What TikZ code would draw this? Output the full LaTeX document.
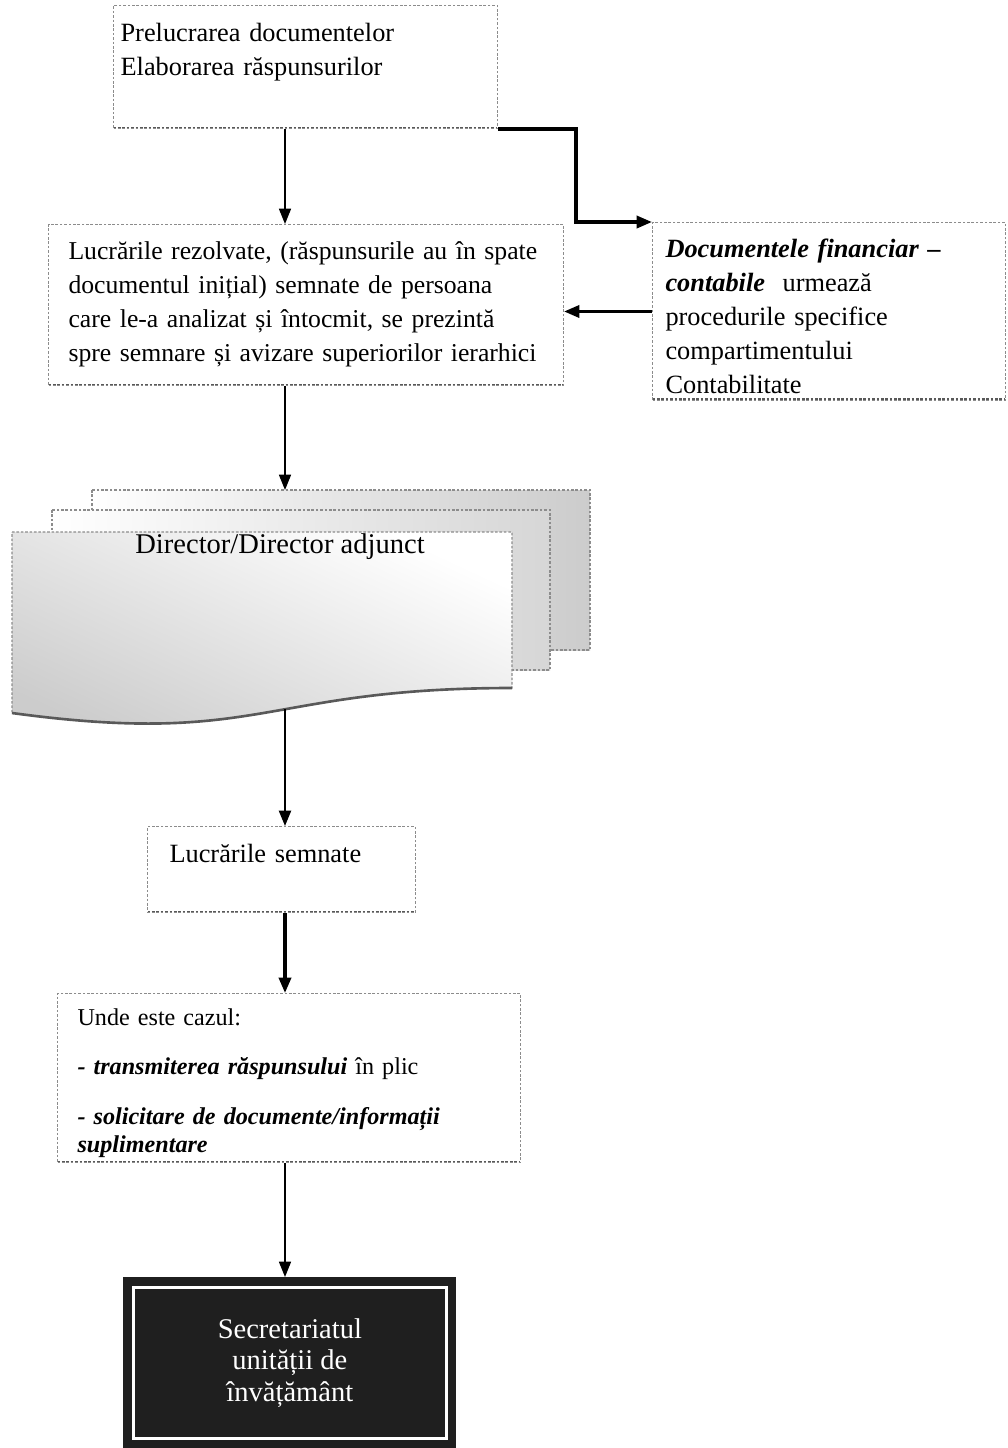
\documentclass[tikz,border=0pt]{standalone}
\usepackage{fontspec}
\setmainfont{Liberation Serif}
\usetikzlibrary{arrows.meta,positioning}

\begin{document}
\begin{tikzpicture}[
    x=0.016cm, y=-0.016cm,
    box/.style={rectangle, draw=black!45, dash pattern=on 1.2pt off 0.8pt, line width=0.5pt, anchor=north west, align=left, inner ysep=0pt, font=\fontsize{12}{15.5}\selectfont,
        path picture={\draw[black!65, line width=1.8pt] (path picture bounding box.south west) -- (path picture bounding box.south east);}},
    sheet/.style={draw=black!45, dash pattern=on 1.2pt off 0.8pt, line width=0.5pt},
    arrow/.style={-{Triangle[length=7pt,width=5.5pt]}, line width=0.6pt},
    midarrow/.style={arrow, line width=0.9pt},
    thickarrow/.style={arrow, line width=1.5pt}
]
\useasboundingbox (0,0) rectangle (1008,1448);

\node[box, text width=168.4pt, inner xsep=3.2pt, text height=16.4pt, text depth=39.6pt] (prel) at (113,5) {Prelucrarea documentelor\\Elaborarea răspunsurilor};
\node[box, text width=216.3pt, inner xsep=9.1pt, text height=15.9pt, text depth=57.4pt, font=\fontsize{11.7}{15.5}\selectfont] (lucr) at (48,224) {\mbox{Lucrările rezolvate, (răspunsurile au în spate}\\\mbox{documentul inițial) semnate de persoana}\\\mbox{care le-a analizat și întocmit, se prezintă}\\\mbox{spre semnare și avizare superiorilor ierarhici}};
\node[box, text width=148.9pt, inner xsep=5.9pt, text height=15.9pt, text depth=65.1pt] (fin) at (652,222) {\textbf{\textit{Documentele financiar –}}\\\textbf{\textit{contabile}}~ urmează\\procedurile specifice\\compartimentului\\Contabilitate};

\draw[sheet, left color=white, right color=black!20] (92,490) rectangle (590,650);
\draw[sheet, left color=white, right color=black!16] (52,510) rectangle (550,670);
\draw[sheet, shading=axis, top color=white, bottom color=black!20, shading angle=-25] (12,532) -- (512,532) -- (512,688) .. controls (262,688) and (262,747) .. (12,713) -- cycle;
\draw[black!65, line width=1.2pt] (512,688) .. controls (262,688) and (262,747) .. (12,713);
\node[anchor=base, font=\fontsize{13}{15.5}\selectfont] (dir) at (280,553) {Director/Director adjunct};
\coordinate (spine) at (285,0);
\coordinate (docin) at (285,490);
\coordinate (docout) at (285,709);

\node[box, text width=102pt, inner xsep=10pt, text height=16.4pt, text depth=22.8pt] (semn) at (147,826) {Lucrările semnate};
\node[box, text width=192.6pt, inner xsep=9.1pt, text height=14.6pt, text depth=62.4pt, font=\fontsize{11}{12.9}\selectfont] (cazul) at (57,993) {Unde este cazul:\\[9.4pt]\textbf{\textit{- transmiterea răspunsului}} în plic\\[9.9pt]\textbf{\textit{- solicitare de documente/informații}}\\\textbf{\textit{suplimentare}}};
\node[rectangle, anchor=north west, fill=black!88, text=white, align=center, minimum width=151.6pt, minimum height=77.9pt, font=\fontsize{13}{14.2}\selectfont,
    path picture={\draw[white, line width=1.3pt] ([shift={(4.5pt,-4.5pt)}]path picture bounding box.north west) rectangle ([shift={(-4.5pt,4.5pt)}]path picture bounding box.south east);}] (secr) at (123,1277) {Secretariatul\\unității de\\învățământ};

\draw[arrow] (spine |- prel.south) -- (spine |- lucr.north);
\draw[thickarrow] (prel.south east) -- ++(78,0) |- (fin.north west);
\draw[thickarrow] (fin.west) -- (fin.west -| lucr.east);
\draw[arrow] (spine |- lucr.south) -- (docin);
\draw[midarrow] (docout) -- (spine |- semn.north);
\draw[thickarrow] (spine |- semn.south) -- (spine |- cazul.north);
\draw[arrow] (spine |- cazul.south) -- (spine |- secr.north);
\end{tikzpicture}
\end{document}
